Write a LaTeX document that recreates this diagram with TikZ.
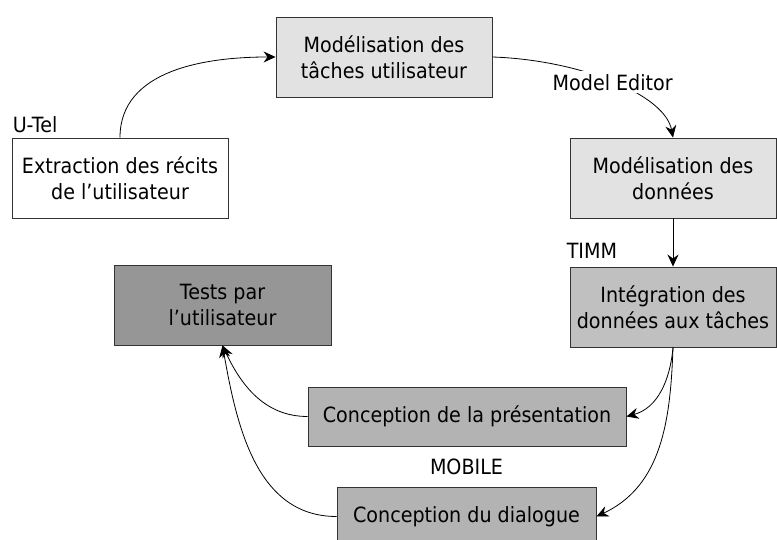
\documentclass[tikz,border=0pt]{standalone}
\usepackage{fontspec}
\setmainfont{DejaVu Sans}[FakeStretch=0.91]
\usetikzlibrary{positioning,calc,arrows.meta}

\definecolor{lightbox}{HTML}{E2E2E2}
\definecolor{midbox}{HTML}{C0C0C0}
\definecolor{stepbox}{HTML}{B3B3B3}
\definecolor{darkbox}{HTML}{969696}

\tikzset{
  box/.style={draw=black!80, line width=0.9pt, align=center, inner sep=2pt,
    font=\fontsize{21}{26}\selectfont},
  tool/.style={inner sep=0pt, font=\fontsize{21}{26}\selectfont},
  link/.style={line width=0.8pt, -{Stealth[length=12pt,width=11pt,inset=4pt]}}
}

\begin{document}
\begin{tikzpicture}[x=1pt,y=1pt]

        \path[use as bounding box, clip] (0,0) rectangle (777,540);

        %Task modelling and user stories
        \node[box, fill=lightbox, minimum width=216pt, minimum height=80pt] (taches) at (384,483) {Modélisation des\\tâches utilisateur};
        \node[box, fill=white, minimum width=216pt, minimum height=80pt] (extraction) at (120,362) {Extraction des récits\\de l’utilisateur};
        \node[tool, above right=5pt and 1pt of extraction.north west, anchor=south west] (utel) {U-Tel};

        %Data modelling and integration
        \node[box, fill=lightbox, minimum width=206pt, minimum height=80pt] (donnees) at (673,362) {Modélisation des\\données};
        \node[box, fill=midbox, minimum width=206pt, minimum height=80pt] (integration) at (673,233) {Intégration des\\données aux tâches};
        \node[tool, above right=8pt and -3pt of integration.north west, anchor=south west] (timm) {TIMM};

        %Presentation, dialogue and tests
        \node[box, fill=darkbox, minimum width=217pt, minimum height=80pt] (tests) at (222.5,235) {Tests par\\l’utilisateur};
        \node[box, fill=stepbox, minimum width=318pt, minimum height=59pt] (presentation) at (467,123.5) {Conception de la présentation};
        \node[box, fill=stepbox, minimum width=259pt, minimum height=59pt] (dialogue) at (466.5,23.5) {Conception du dialogue};
        \node[tool, above=12pt of dialogue] (mobile) {MOBILE};

        %Connecting curves
        \draw[link] (extraction.north) to[out=90, in=180] (taches.west);
        \draw[link] (taches.east) .. controls ($(taches.east)+(88,-3)$) and ($(donnees.north)+(-8,43)$) .. (donnees.north)
              node[midway, fill=white, inner sep=3pt, font=\fontsize{21}{26}\selectfont] {Model Editor};
        \draw[link] (donnees.south) -- (integration.north);
        \draw[link] (integration.south) to[out=-95, in=15] (presentation.east);
        \draw[link] (integration.south) to[out=-92, in=25] (dialogue.east);
        \draw[link] (presentation.west) to[out=180, in=-65] (tests.south);
        \draw[link] (dialogue.west) to[out=180, in=-80] (tests.south);

\end{tikzpicture}
\end{document}
